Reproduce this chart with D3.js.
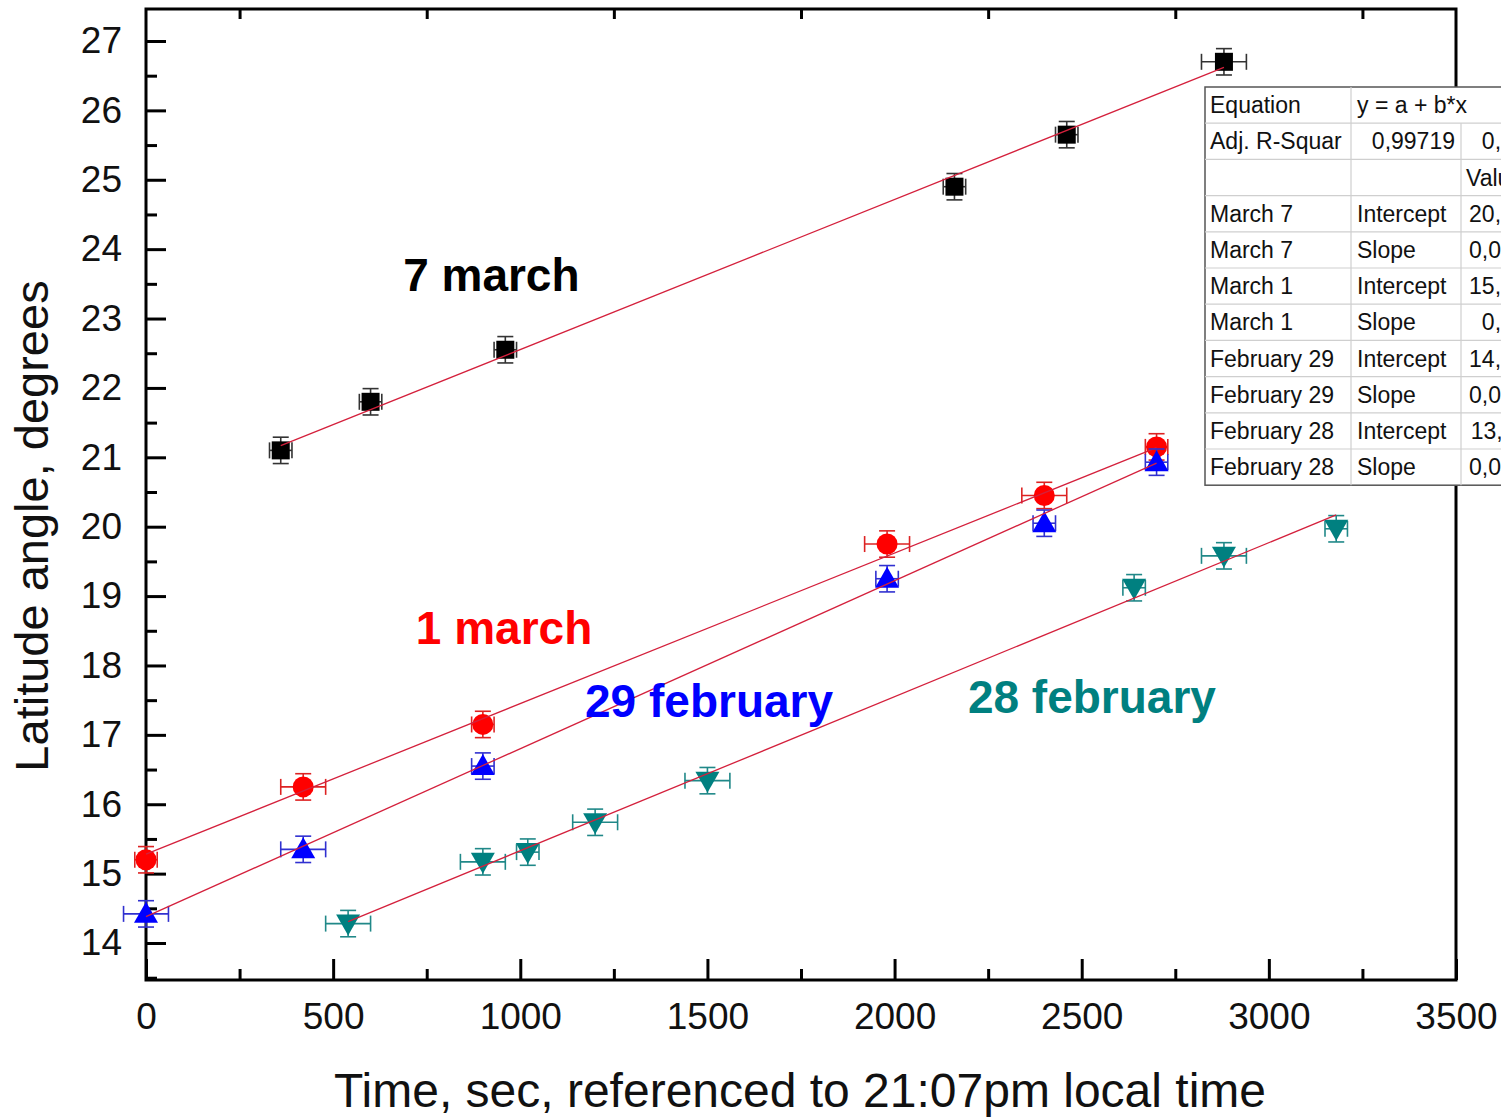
<!DOCTYPE html>
<html lang="en">
<head>
    <meta charset="UTF-8">
    <title>Latitude angle vs time</title>
    <script src="https://d3js.org/d3.v7.min.js"></script>
    <style>
        body { margin: 0; background: #fff; }
        svg { display: block; font-family: "Liberation Sans", Arial, sans-serif; }
        .frame { fill: none; stroke: #000; stroke-width: 3; }
        .tick line { stroke: #000; stroke-width: 3; }
        .tick text { font-size: 37px; fill: #111; }
        .fit { fill: none; stroke: #d4203c; stroke-width: 1.3; }
        .err { stroke-width: 1.6; fill: none; }
        .note { font-size: 46px; font-weight: bold; }
        .cell { font-size: 23px; fill: #111; }
    </style>
</head>
<body>
<div id="chart"></div>
<script>
// ---- data ----
const march7X = [360, 600, 960, 2160, 2460, 2880];
const march7Y = [21.1, 21.8, 22.55, 24.9, 25.65, 26.7];
const march7XErr = [30, 30, 30, 30, 30, 60];

const march1X = [0, 420, 900, 1980, 2400, 2700];
const march1Y = [15.2, 16.25, 17.15, 19.75, 20.45, 21.15];
const march1XErr = [30, 60, 30, 60, 60, 30];

const feb29X = [0, 420, 900, 1980, 2400, 2700];
const feb29Y = [14.42, 15.35, 16.55, 19.25, 20.05, 20.93];
const feb29XErr = [60, 60, 30, 30, 30, 30];

const feb28X = [540, 900, 1020, 1200, 1500, 2640, 2880, 3180];
const feb28Y = [14.28, 15.17, 15.31, 15.74, 16.34, 19.12, 19.58, 19.97];
const feb28XErr = [60, 60, 30, 60, 60, 30, 60, 30];

const yErr = 0.19;

// linear fits (intercept, slope)
const fitIntercept = [20.39, 15.28, 14.38, 13.11];
const fitSlope = [0.002163, 0.00217, 0.002421, 0.00222];

const seriesNames = ["7 march", "1 march", "29 february", "28 february"];
const seriesColors = ["#000000", "#ff0000", "#0000ff", "#008080"];
const errColors = ["#333333", "#dd2222", "#3030d0", "#208888"];
const seriesShapes = ["square", "circle", "triangle", "down"];
const labelX = [687, 721, 1173, 2196];
const labelY = [23.40, 18.31, 17.26, 17.32];

const xMajorTicks = [0, 500, 1000, 1500, 2000, 2500, 3000, 3500];
const xMinorTicks = [250, 750, 1250, 1750, 2250, 2750, 3250];
const yMajorTicks = [14, 15, 16, 17, 18, 19, 20, 21, 22, 23, 24, 25, 26, 27];
const yMinorTicks = [13.5, 14.5, 15.5, 16.5, 17.5, 18.5, 19.5, 20.5, 21.5, 22.5, 23.5, 24.5, 25.5, 26.5];

const xTitle = "Time, sec, referenced to 21:07pm local time";
const yTitle = "Latitude angle, degrees";

// fit table (cut off at the right edge like the original)
const tableCol1 = ["Equation", "Adj. R-Squar", "", "March 7", "March 7", "March 1", "March 1",
    "February 29", "February 29", "February 28", "February 28"];
const tableCol2 = ["y = a + b*x", "0,99719", "", "Intercept", "Slope", "Intercept", "Slope",
    "Intercept", "Slope", "Intercept", "Slope"];
const tableCol3 = ["", "0,99652", "Value", "20,38957", "0,002163", "15,27847", "0,00217",
    "14,37895", "0,002421", "13,11046", "0,002219"];

// ---- layout ----
const W = 1501, H = 1118;
const margin = { top: 9, right: 45, bottom: 138, left: 146 };
const width = W - margin.left - margin.right;
const height = H - margin.top - margin.bottom;

const svg = d3.select("#chart").append("svg")
    .attr("width", W)
    .attr("height", H);

const g = svg.append("g")
    .attr("transform", "translate(" + margin.left + "," + margin.top + ")");

const xScale = d3.scaleLinear().domain([0, 3500]).range([0, width]);
const yScale = d3.scaleLinear().domain([13.467, 27.461]).range([height, 0]);

// axes (ticks pointing inward)
g.append("g")
    .attr("transform", "translate(0," + height + ")")
    .call(d3.axisBottom(xScale).tickValues(xMajorTicks).tickFormat(d3.format("d")).tickSize(-21).tickPadding(23))
    .call(a => a.select(".domain").remove());
g.append("g")
    .attr("transform", "translate(0," + height + ")")
    .call(d3.axisBottom(xScale).tickValues(xMinorTicks).tickSize(-11).tickFormat(""))
    .call(a => a.select(".domain").remove());
g.append("g")
    .call(d3.axisTop(xScale).tickValues(xMinorTicks).tickSize(-10).tickFormat(""))
    .call(a => a.select(".domain").remove());
g.append("g")
    .call(d3.axisLeft(yScale).tickValues(yMajorTicks).tickFormat(d3.format("d")).tickSize(-20).tickPadding(24))
    .call(a => a.select(".domain").remove());
g.append("g")
    .call(d3.axisLeft(yScale).tickValues(yMinorTicks).tickSize(-11).tickFormat(""))
    .call(a => a.select(".domain").remove());

g.selectAll(".tick text").attr("font-family", "Liberation Sans, Arial, sans-serif");

g.append("rect")
    .attr("class", "frame")
    .attr("width", width)
    .attr("height", height);

// series
const series = [
    { x: march7X, y: march7Y, xe: march7XErr },
    { x: march1X, y: march1Y, xe: march1XErr },
    { x: feb29X, y: feb29Y, xe: feb29XErr },
    { x: feb28X, y: feb28Y, xe: feb28XErr }
];

const line = d3.line().x(d => xScale(d[0])).y(d => yScale(d[1]));

series.forEach(function(s, i) {
    const pts = s.x.map((x, j) => ({ x: x, y: s.y[j], xe: s.xe[j] }));
    const col = errColors[i];
    const layer = g.append("g");

    // error bars
    pts.forEach(function(p) {
        const cx = xScale(p.x), cy = yScale(p.y);
        const x0 = xScale(p.x - p.xe), x1 = xScale(p.x + p.xe);
        const y0 = yScale(p.y + yErr), y1 = yScale(p.y - yErr);
        const cap = 8;
        const eb = layer.append("g").attr("class", "err").attr("stroke", col);
        eb.append("line").attr("x1", cx).attr("x2", cx).attr("y1", y0).attr("y2", y1);
        eb.append("line").attr("x1", cx - cap).attr("x2", cx + cap).attr("y1", y0).attr("y2", y0);
        eb.append("line").attr("x1", cx - cap).attr("x2", cx + cap).attr("y1", y1).attr("y2", y1);
        eb.append("line").attr("x1", x0).attr("x2", x1).attr("y1", cy).attr("y2", cy);
        eb.append("line").attr("x1", x0).attr("x2", x0).attr("y1", cy - cap).attr("y2", cy + cap);
        eb.append("line").attr("x1", x1).attr("x2", x1).attr("y1", cy - cap).attr("y2", cy + cap);
    });

    // markers
    const color = seriesColors[i];
    pts.forEach(function(p) {
        const cx = xScale(p.x), cy = yScale(p.y);
        if (seriesShapes[i] === "square") {
            layer.append("rect").attr("x", cx - 9).attr("y", cy - 9)
                .attr("width", 18).attr("height", 18).attr("fill", color);
        } else if (seriesShapes[i] === "circle") {
            layer.append("circle").attr("cx", cx).attr("cy", cy).attr("r", 10.5).attr("fill", color);
        } else if (seriesShapes[i] === "triangle") {
            layer.append("path")
                .attr("d", "M" + cx + "," + (cy - 12) + "L" + (cx + 12) + "," + (cy + 9) + "L" + (cx - 12) + "," + (cy + 9) + "Z")
                .attr("fill", color);
        } else {
            layer.append("path")
                .attr("d", "M" + cx + "," + (cy + 12) + "L" + (cx + 12) + "," + (cy - 9) + "L" + (cx - 12) + "," + (cy - 9) + "Z")
                .attr("fill", color);
        }
    });

    // fit line across the data range
    const xs = d3.extent(s.x);
    g.append("path")
        .attr("class", "fit")
        .attr("d", line(xs.map(x => [x, fitIntercept[i] + fitSlope[i] * x])));

    // series label
    g.append("text")
        .attr("class", "note")
        .attr("x", xScale(labelX[i]))
        .attr("y", yScale(labelY[i]))
        .attr("fill", color)
        .text(seriesNames[i]);
});

// axis titles
svg.append("text")
    .attr("x", 800)
    .attr("y", 1107)
    .attr("text-anchor", "middle")
    .style("font-size", "48px")
    .attr("fill", "#111")
    .text(xTitle);

svg.append("text")
    .attr("transform", "translate(48," + 526 + ") rotate(-90)")
    .attr("text-anchor", "middle")
    .style("font-size", "47px")
    .attr("fill", "#111")
    .text(yTitle);

// fit results table
const tbl = svg.append("g").attr("transform", "translate(1205,87)");
const rowH = 36.2;
const colX = [0, 146, 256, 380];
const nRows = tableCol1.length;

tbl.append("rect")
    .attr("width", 400)
    .attr("height", rowH * nRows)
    .attr("fill", "#fff")
    .attr("stroke", "#555")
    .attr("stroke-width", 1.5);

for (let r = 1; r < nRows; r++) {
    tbl.append("line")
        .attr("x1", 0).attr("x2", 400)
        .attr("y1", r * rowH).attr("y2", r * rowH)
        .attr("stroke", "#cfcfcf").attr("stroke-width", 1.2);
}
tbl.append("line")
    .attr("x1", colX[1]).attr("x2", colX[1])
    .attr("y1", 0).attr("y2", rowH * nRows)
    .attr("stroke", "#cfcfcf").attr("stroke-width", 1.2);
tbl.append("line")
    .attr("x1", colX[2]).attr("x2", colX[2])
    .attr("y1", rowH).attr("y2", rowH * nRows)
    .attr("stroke", "#cfcfcf").attr("stroke-width", 1.2);

tableCol1.forEach(function(t, r) {
    const yy = r * rowH + rowH / 2 + 8;
    tbl.append("text").attr("class", "cell").attr("x", 5).attr("y", yy).text(t);
    if (r === 1) {
        tbl.append("text").attr("class", "cell").attr("x", colX[2] - 6).attr("y", yy)
            .attr("text-anchor", "end").text(tableCol2[r]);
    } else {
        tbl.append("text").attr("class", "cell").attr("x", colX[1] + 6).attr("y", yy).text(tableCol2[r]);
    }
    if (r === 2) {
        tbl.append("text").attr("class", "cell").attr("x", colX[2] + 5).attr("y", yy).text(tableCol3[r]);
    } else {
        tbl.append("text").attr("class", "cell").attr("x", 360).attr("y", yy)
            .attr("text-anchor", "end").text(tableCol3[r]);
    }
});
</script>
</body>
</html>
